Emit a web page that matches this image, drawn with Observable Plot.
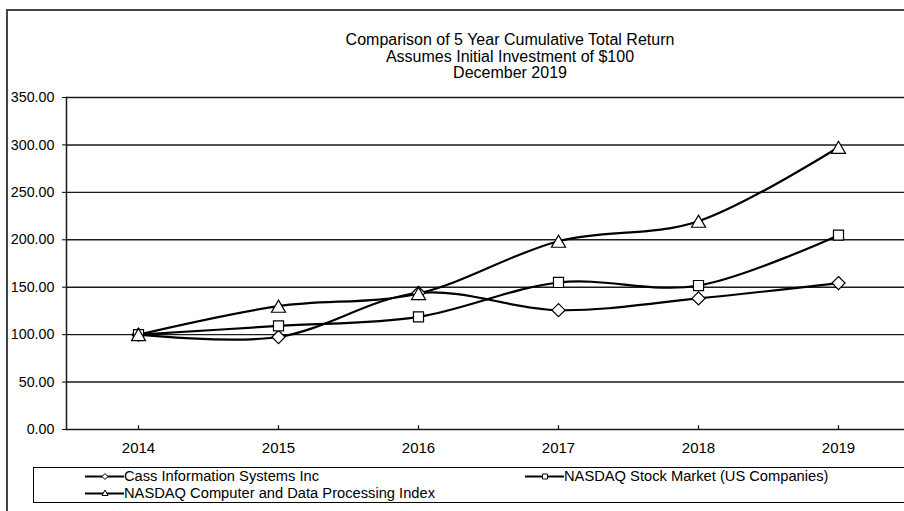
<!DOCTYPE html>
<html><head><meta charset="utf-8">
<script src="https://cdn.jsdelivr.net/npm/d3@7"></script>
<script src="https://cdn.jsdelivr.net/npm/@observablehq/plot@0.6"></script>
<style>
body{margin:0;background:#fff;}
#wrap{position:relative;width:904px;height:511px;overflow:hidden;font-family:"Liberation Sans",Arial,sans-serif;color:#000;background:#fff;}
#chart{position:absolute;left:0;top:0;}
#frame{position:absolute;left:6px;top:9px;width:1000px;height:600px;border-left:2px solid #444;border-top:2px solid #444;}
.t{position:absolute;left:310px;width:400px;text-align:center;font-size:16px;line-height:16.7px;white-space:nowrap;}
#legend{position:absolute;left:33px;top:467px;width:1000px;height:34px;border:1.5px solid #000;}
.li{position:absolute;font-size:14.7px;line-height:17px;white-space:nowrap;}
.li svg{position:absolute;top:0;}
.li span{position:absolute;top:0;}
</style></head>
<body>
<div id="wrap">
  <div id="chart"></div>
  <div id="frame"></div>
  <div class="t" style="top:32px">Comparison of 5 Year Cumulative Total Return</div>
  <div class="t" style="top:48.7px">Assumes Initial Investment of $100</div>
  <div class="t" style="top:65.4px">December 2019</div>
  <div id="legend"></div>
  <div id="legendItems"></div>
</div>
<script>
const years = ["2014", "2015", "2016", "2017", "2018", "2019"];
const cass = [100, 97.5, 143.9, 125.8, 138.2, 154.4];
const nasdaq = [100, 109.2, 118.7, 155.0, 151.8, 204.9];
const computer = [100, 130.0, 143.4, 198.5, 219.6, 297.5];
const yTicks = [0, 50, 100, 150, 200, 250, 300, 350];
const seriesNames = ["Cass Information Systems Inc", "NASDAQ Stock Market (US Companies)", "NASDAQ Computer and Data Processing Index"];

const toRows = (vals, name) => years.map((y, i) => ({year: y, value: vals[i], series: name}));
const cassRows = toRows(cass, seriesNames[0]);
const nasdaqRows = toRows(nasdaq, seriesNames[1]);
const compRows = toRows(computer, seriesNames[2]);

const lineOpts = {x: "year", y: "value", stroke: "#000", strokeWidth: 2.2, curve: "cardinal"};
const dotOpts = {x: "year", y: "value", fill: "white", stroke: "#000", strokeWidth: 1.2};

const chart = Plot.plot({
  width: 904, height: 511,
  marginLeft: 66, marginRight: -6, marginTop: 97, marginBottom: 82,
  x: {type: "point", domain: years, padding: 0.5},
  y: {domain: [0, 350]},
  style: {background: "transparent", fontFamily: "'Liberation Sans', Arial, sans-serif", fontSize: "14px", color: "#000", overflow: "visible", maxWidth: "none"},
  marks: [
    Plot.gridY(yTicks, {stroke: "#1a1a1a", strokeOpacity: 1, strokeWidth: 1.4}),
    Plot.frame({anchor: "left", stroke: "#1a1a1a", strokeWidth: 1.5}),
    Plot.axisY(yTicks, {tickSize: 4, tickPadding: 8, tickFormat: d => d.toFixed(2), label: null, fontSize: 14.3}),
    Plot.axisX({tickSize: 0, tickPadding: 13, label: null, fontSize: 15}),
    Plot.ruleX(years, {x: d => d, y1: 0, y2: 4, stroke: "#222", strokeWidth: 1.3}),
    Plot.line(cassRows, lineOpts),
    Plot.line(nasdaqRows, lineOpts),
    Plot.line(compRows, lineOpts),
    Plot.dot(cassRows, {...dotOpts, symbol: "diamond2", r: 5.9}),
    Plot.dot(nasdaqRows, {...dotOpts, symbol: "square2", r: 6.4}),
    Plot.dot(compRows, {...dotOpts, symbol: "triangle2", r: 6.7, dy: 2})
  ]
});
document.getElementById("chart").appendChild(chart);

// legend
const legendPos = [[85, 468], [525, 468], [85, 485]];
const markerPaths = [
  "M20,2.5 L23,5.5 L20,8.5 L17,5.5 Z",
  "M17.5,3 L22.5,3 L22.5,8 L17.5,8 Z",
  "M20,2 L23,7.5 L17,7.5 Z"
];
const items = document.getElementById("legendItems");
seriesNames.forEach((name, i) => {
  const [lx, ly] = legendPos[i];
  const d = document.createElement("div");
  d.className = "li";
  d.style.left = lx + "px";
  d.style.top = ly + "px";
  d.innerHTML = `<svg width="40" height="17" viewBox="0 0 40 11" style="height:17px"><line x1="0" x2="39" y1="5.5" y2="5.5" stroke="#000" stroke-width="2"/><path d="${markerPaths[i]}" fill="#fff" stroke="#000" stroke-width="1"/></svg><span style="left:39px">${name}</span>`;
  items.appendChild(d);
});
</script>
</body></html>
